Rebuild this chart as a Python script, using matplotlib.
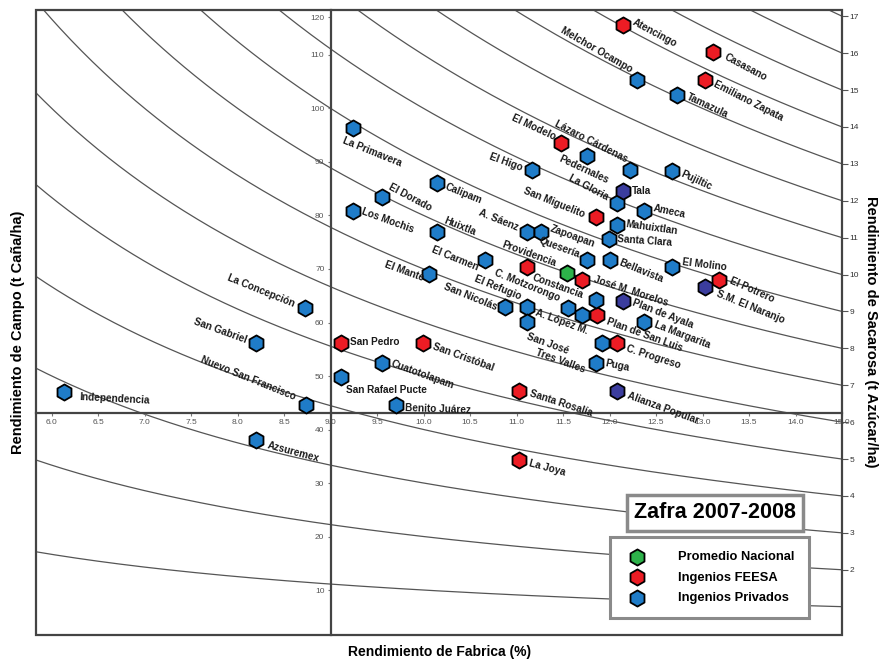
import numpy as np
import matplotlib.pyplot as plt
from matplotlib.patches import Rectangle
from matplotlib.ticker import FixedLocator

plt.rcParams['font.family'] = ['Liberation Sans', 'DejaVu Sans']

# ---- data ----
ingenios = ['Atencingo', 'Casasano', 'Melchor Ocampo', 'Emiliano Zapata', 'Tamazula',
            'La Primavera', 'El Modelo', 'Pedernales', 'Lázaro Cárdenas', 'El Higo',
            'Pujiltic', 'Tala', 'La Gloria', 'Calipam', 'El Dorado',
            'Ameca', 'Los Mochis', 'San Miguelito', 'Mahuixtlan', 'Huixtla',
            'A. Sáenz', 'Zapoapan', 'Santa Clara', 'Quesería', 'Bellavista',
            'El Carmen', 'Providencia', 'El Molino', 'Promedio Nacional', 'El Mante',
            'Constancia', 'El Potrero', 'S.M. El Naranjo', 'José M. Morelos', 'Plan de Ayala',
            'San Nicolás', 'El Refugio', 'C. Motzorongo', 'A. López M.', 'Plan de San Luis',
            'San José', 'La Margarita', 'C. Progreso', 'Tres Valles', 'Puga',
            'Alianza Popular', 'San Pedro', 'San Cristóbal', 'Cuatotolapam', 'San Rafael Pucte',
            'Benito Juárez', 'Santa Rosalía', 'La Joya', 'La Concepción', 'San Gabriel',
            'Nuevo San Francisco', 'Independencia', 'Azsuremex']

fabrica = [12.14, 13.11, 12.29, 13.03, 12.73,
           9.24, 11.48, 11.76, 12.22, 11.17,
           12.67, 12.14, 12.08, 10.14, 9.55,
           12.37, 9.24, 11.85, 12.08, 10.14,
           11.11, 11.26, 11.99, 11.76, 12.00,
           10.66, 11.11, 12.67, 11.54, 10.06,
           11.70, 13.18, 13.03, 11.85, 12.14,
           10.88, 11.11, 11.55, 11.70, 11.86,
           11.11, 12.37, 12.08, 11.92, 11.85,
           12.08, 9.11, 9.99, 9.55, 9.11,
           9.70, 11.03, 11.03, 8.72, 8.20,
           8.73, 6.13, 8.20]

campo = [115.6, 110.6, 105.3, 105.3, 102.5,
         96.4, 93.6, 91.1, 88.5, 88.5,
         88.3, 84.6, 82.3, 86.1, 83.5,
         80.8, 80.8, 79.7, 78.2, 76.9,
         76.9, 76.9, 75.6, 71.7, 71.7,
         71.7, 70.4, 70.4, 69.3, 69.1,
         67.9, 67.9, 66.6, 64.2, 64.0,
         62.9, 62.9, 62.7, 61.4, 61.4,
         60.1, 60.1, 56.2, 56.2, 52.4,
         47.2, 56.2, 56.2, 52.4, 49.8,
         44.6, 47.2, 34.3, 62.7, 56.2,
         44.6, 47.0, 38.0]

# N = promedio nacional, F = FEESA, P = privados, A = privados (otro tono)
grupo = ['F', 'F', 'P', 'F', 'P',
         'P', 'F', 'P', 'P', 'P',
         'P', 'A', 'P', 'P', 'P',
         'P', 'P', 'F', 'P', 'P',
         'P', 'P', 'P', 'P', 'P',
         'P', 'F', 'P', 'N', 'P',
         'F', 'F', 'A', 'P', 'A',
         'P', 'P', 'P', 'P', 'F',
         'P', 'P', 'F', 'P', 'P',
         'A', 'F', 'F', 'P', 'P',
         'P', 'F', 'F', 'P', 'P',
         'P', 'P', 'P']

azucar_curvas = list(range(1, 18))      # t azucar/ha iso-lines
x_ticks = [6.0, 6.5, 7.0, 7.5, 8.0, 8.5, 9.0, 9.5, 10.0, 10.5, 11.0, 11.5,
           12.0, 12.5, 13.0, 13.5, 14.0, 14.5]
x_ticklabels = [f'{v:.1f}' for v in x_ticks[:-1]] + ['15.0']
y_ticks = [10, 20, 30, 40, 50, 60, 70, 80, 90, 100, 110, 117]
y_ticklabels = ['10', '20', '30', '40', '50', '60', '70', '80', '90', '100', '110', '120']
s_ticks = list(range(2, 18))

# ---- label placement (pixel offsets, alignment, rotation, bold) ----
lab_ha = ['l', 'l', 'r', 'l', 'l', 'l', 'r', 'l', 'r', 'r',
          'l', 'l', 'r', 'l', 'l', 'l', 'l', 'r', 'l', 'l',
          'r', 'l', 'l', 'r', 'l', 'r', 'l', 'l', 'l', 'r',
          'l', 'l', 'l', 'l', 'l', 'r', 'r', 'r', 'l', 'l',
          'l', 'l', 'l', 'r', 'l', 'l', 'l', 'l', 'l', 'l',
          'l', 'l', 'l', 'r', 'r', 'r', 'l', 'l']
lab_dx = [10, 12, -5, 9, 10, -10, -6, -28, -3, -10,
          10, 9, -9, 9, 8, 9, 9, -11, 9, 8,
          -9, 10, 9, -8, 10, -7, -24, 10, 0, -6,
          -49, 11, 12, -2, 10, -9, -6, -8, -46, 10,
          0, 11, 10, -17, 10, 11, 9, 10, 10, 5,
          9, 11, 10, -10, -10, -10, 16, 11]
lab_dy = [3, -5, 10, -3, -1, -12, 5, -2, 10, 2,
          -2, 0, 6, -4, 10, 3, 0, 2, 1, 12,
          4, 4, 0, 5, -2, -8, 23, 5, 0, -4,
          3, 0, -6, 21, -1, 0, 10, 10, 3, -6,
          -14, -2, -5, -27, 0, -4, 1, -3, 0, -13,
          -3, -2, -3, 4, 3, 8, -5, -5]
lab_rot = [-28, -28, -30, -27, -25, -22, -25, -25, -27, -20,
           -25, 0, -28, -22, -28, -12, -20, -22, -8, -22,
           -22, -20, -4, -20, -22, -22, -20, -7, 0, -20,
           -20, -24, -22, -18, -21, -22, -22, -22, -20, -20,
           -20, -21, -18, -20, -12, -20, 0, -20, -20, 0,
           -2, -18, -15, -22, -20, -22, -3, -15]
lab_bold = ['Tala', 'San Pedro', 'San Rafael Pucte', 'Benito Juárez']

colores = {'N': '#2db24a', 'F': '#ec1c24', 'P': '#1f7cc8', 'A': '#3b3d9e'}
leyenda = {'N': 'Promedio Nacional', 'F': 'Ingenios FEESA', 'P': 'Ingenios Privados'}

XMIN, XMAX = 5.83, 14.5
YMIN, YMAX = 1.6, 118.4
EJE_Y = 43.1   # where the horizontal axis crosses

fig = plt.figure(figsize=(8.81, 6.64), dpi=100)
ax = fig.add_axes([36 / 881, 29 / 664, 806 / 881, 625 / 664])
ax.set_xlim(XMIN, XMAX)
ax.set_ylim(YMIN, YMAX)

# iso-sugar curves: azucar = campo * fabrica / 100
r = np.linspace(XMIN, XMAX, 300)
for s in azucar_curvas:
    ax.plot(r, 100 * s / r, color='#555555', lw=0.9, zorder=1)

fab = np.array(fabrica)
cam = np.array(campo)
grp = np.array(grupo)
for g in ['N', 'F', 'P', 'A']:
    m = grp == g
    ax.scatter(fab[m], cam[m], marker='h', s=135, c=colores[g], edgecolors='black',
               linewidths=1.3, zorder=3, label=leyenda.get(g, '_nolegend_'))

for i, name in enumerate(ingenios):
    if name == 'Promedio Nacional':
        continue
    ax.annotate(name, (fabrica[i], campo[i]), xytext=(lab_dx[i], lab_dy[i]),
                textcoords='offset pixels', ha='left' if lab_ha[i] == 'l' else 'right',
                va='center', rotation=lab_rot[i], rotation_mode='anchor',
                fontsize=7.2, color='#1a1a1a',
                fontweight='bold' if name in lab_bold else 'semibold', zorder=4)

# inner axes crossing at fabrica 9.0 / campo ~43
for sp in ['top', 'right']:
    ax.spines[sp].set_visible(False)
ax.spines['left'].set_position(('data', 9.0))
ax.spines['bottom'].set_position(('data', EJE_Y))
ax.spines['left'].set_linewidth(1.6)
ax.spines['bottom'].set_linewidth(1.6)
ax.spines['left'].set_color('#444444')
ax.spines['bottom'].set_color('#444444')
ax.set_xticks(x_ticks)
ax.set_xticklabels(x_ticklabels)
ax.set_yticks(y_ticks)
ax.set_yticklabels(y_ticklabels)
ax.tick_params(axis='both', labelsize=6, labelcolor='#555555', color='#777777',
               length=2.5, width=0.8, pad=2)
ax.add_patch(Rectangle((0, 0), 1, 1, transform=ax.transAxes, fill=False,
                       ec='#444444', lw=1.6, clip_on=False, zorder=5))

# right scale: sugar yield where each curve meets the right edge
sec = ax.secondary_yaxis('right', functions=(lambda f: f * XMAX / 100,
                                            lambda s: s * 100 / XMAX))
sec.yaxis.set_major_locator(FixedLocator(s_ticks))
sec.tick_params(labelsize=6, labelcolor='#333333', length=4, width=0.8,
                color='#555555', pad=1.5)
sec.spines['right'].set_visible(False)

fig.text(18 / 881, 0.5, 'Rendimiento de Campo (t Caña/ha)', rotation=90,
         ha='center', va='center', fontsize=10.5, fontweight='bold')
fig.text(440 / 881, 12 / 664, 'Rendimiento de Fabrica (%)', ha='center', va='center',
         fontsize=10, fontweight='bold')
fig.text(871 / 881, 0.5, 'Rendimiento de Sacarosa (t Azúcar/ha)', rotation=-90,
         ha='center', va='center', fontsize=10.5, fontweight='bold')

fig.text(715 / 881, 1 - 513 / 664, 'Zafra 2007-2008', ha='center', va='center',
         fontsize=15.5, fontweight='bold',
         bbox=dict(boxstyle='square,pad=0.35', fc='white', ec='#8a8a8a', lw=2.5))

leg = ax.legend(loc='upper left', bbox_to_anchor=(610 / 881, 1 - 537 / 664),
                bbox_transform=fig.transFigure, frameon=True, fancybox=False,
                edgecolor='#8a8a8a', framealpha=1, handlelength=2.0, handletextpad=2.2,
                borderpad=1.1, labelspacing=0.65, borderaxespad=0,
                prop={'weight': 'bold', 'size': 9.3})
leg.get_frame().set_linewidth(2.2)
leg.set_zorder(6)

fig.savefig('out.png', dpi=100)
